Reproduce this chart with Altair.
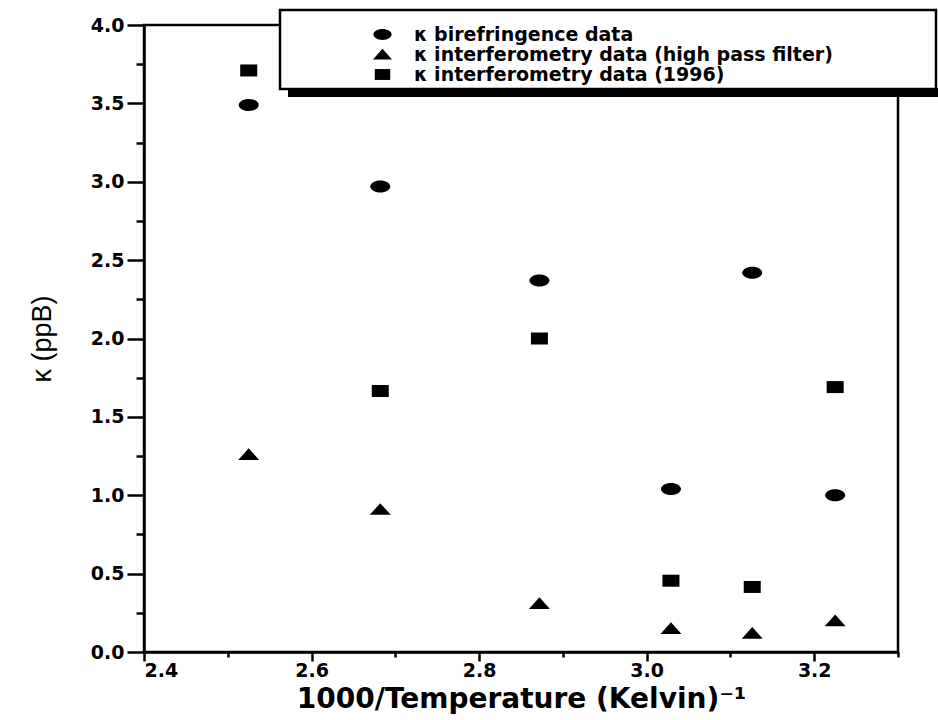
import altair as alt
import pandas as pd

# 1000/T values (x) and kappa values (ppB) for each series
inv_temp = [2.525, 2.682, 2.872, 3.029, 3.126, 3.225]
biref = [3.49, 2.97, 2.37, 1.04, 2.42, 1.00]
interf_hp = [1.26, 0.91, 0.31, 0.15, 0.12, 0.20]
interf_1996 = [3.71, 1.665, 2.00, 0.455, 0.415, 1.69]

series_names = [
    "κ birefringence data",
    "κ interferometry data (high pass filter)",
    "κ interferometry data (1996)",
]
x_ticks = [2.4, 2.5, 2.6, 2.7, 2.8, 2.9, 3.0, 3.1, 3.2, 3.3]
y_ticks = [0, 0.25, 0.5, 0.75, 1.0, 1.25, 1.5, 1.75, 2.0, 2.25, 2.5, 2.75,
           3.0, 3.25, 3.5, 3.75, 4.0]

rows = []
for name, vals in zip(series_names, [biref, interf_hp, interf_1996]):
    for xv, yv in zip(inv_temp, vals):
        rows.append({"x": xv, "y": yv, "series": name})
df = pd.DataFrame(rows)

ellipse = "M -1 0 A 1 0.6 0 1 0 1 0 A 1 0.6 0 1 0 -1 0 Z"
triangle = "M 0 -0.62 L 1.05 0.55 L -1.05 0.55 Z"
square = "M -0.85 -0.6 L 0.85 -0.6 L 0.85 0.6 L -0.85 0.6 Z"

FONT = "DejaVu Sans"

x_axis = alt.Axis(
    title="1000/Temperature (Kelvin)⁻¹",
    values=x_ticks,
    labelExpr="(round(datum.value*10) % 2 == 0 && datum.value < 3.25) ? format(datum.value, '.1f') : ''",
    tickSize={"condition": {"test": "round(datum.value*10) % 2 == 0", "value": 9}, "value": 5},
    tickColor="black", tickWidth=2.5,
    domainColor="black", domainWidth=2.5,
    labelFont=FONT, labelFontWeight="bold", labelFontSize=19, labelColor="black",
    labelPadding=0,
    titleFont=FONT, titleFontWeight="bold", titleFontSize=28, titleColor="black",
    titlePadding=5,
    grid=False,
)
y_axis = alt.Axis(
    title="κ (ppB)",
    values=y_ticks,
    labelExpr="(datum.value*2 == round(datum.value*2)) ? format(datum.value, '.1f') : ''",
    tickSize={"condition": {"test": "datum.value*2 == round(datum.value*2)", "value": 17}, "value": 8},
    tickColor="black", tickWidth=2.5,
    domainColor="black", domainWidth=2.5,
    labelFont=FONT, labelFontWeight="bold", labelFontSize=19, labelColor="black",
    labelPadding=3,
    titleFont="Liberation Sans",
    titleFontWeight="normal", titleFontSize=27, titleColor="black",
    titlePadding=34,
    grid=False,
)

one = alt.Data(values=[{}])

box = alt.Chart(one).mark_rect(fill="white", stroke="black", strokeWidth=2.5).encode(
    x=alt.value(136), x2=alt.value(792), y=alt.value(-15), y2=alt.value(64)
)
shadow = alt.Chart(one).mark_rect(fill="black").encode(
    x=alt.value(144), x2=alt.value(794), y=alt.value(63), y2=alt.value(72)
)

points = alt.Chart(df).mark_point(filled=True, opacity=1, color="black", size=400).encode(
    x=alt.X("x:Q", scale=alt.Scale(domain=[2.4, 3.3], nice=False, zero=False), axis=x_axis),
    y=alt.Y("y:Q", scale=alt.Scale(domain=[0, 4], nice=False), axis=y_axis),
    shape=alt.Shape(
        "series:N",
        scale=alt.Scale(domain=series_names, range=[ellipse, triangle, square]),
        legend=alt.Legend(
            title=None,
            orient="none",
            legendX=229,
            legendY=0,
            padding=0,
            symbolSize=330,
            symbolFillColor="black",
            symbolStrokeWidth=0,
            labelOffset=22,
            labelFont=FONT,
            labelFontWeight="bold",
            labelFontSize=19,
            labelColor="black",
            labelLimit=700,
            rowPadding=-3,
        ),
    ),
)

chart = alt.layer(box, shadow, points).properties(
    width=754,
    height=627,
    background="white",
    autosize=alt.AutoSizeParams(type="none"),
    padding={"left": 144, "top": 25, "right": 40, "bottom": 68},
).configure_view(stroke="black", strokeWidth=2.5)

chart.save("out.html", embed_options={"renderer": "svg", "actions": False})
